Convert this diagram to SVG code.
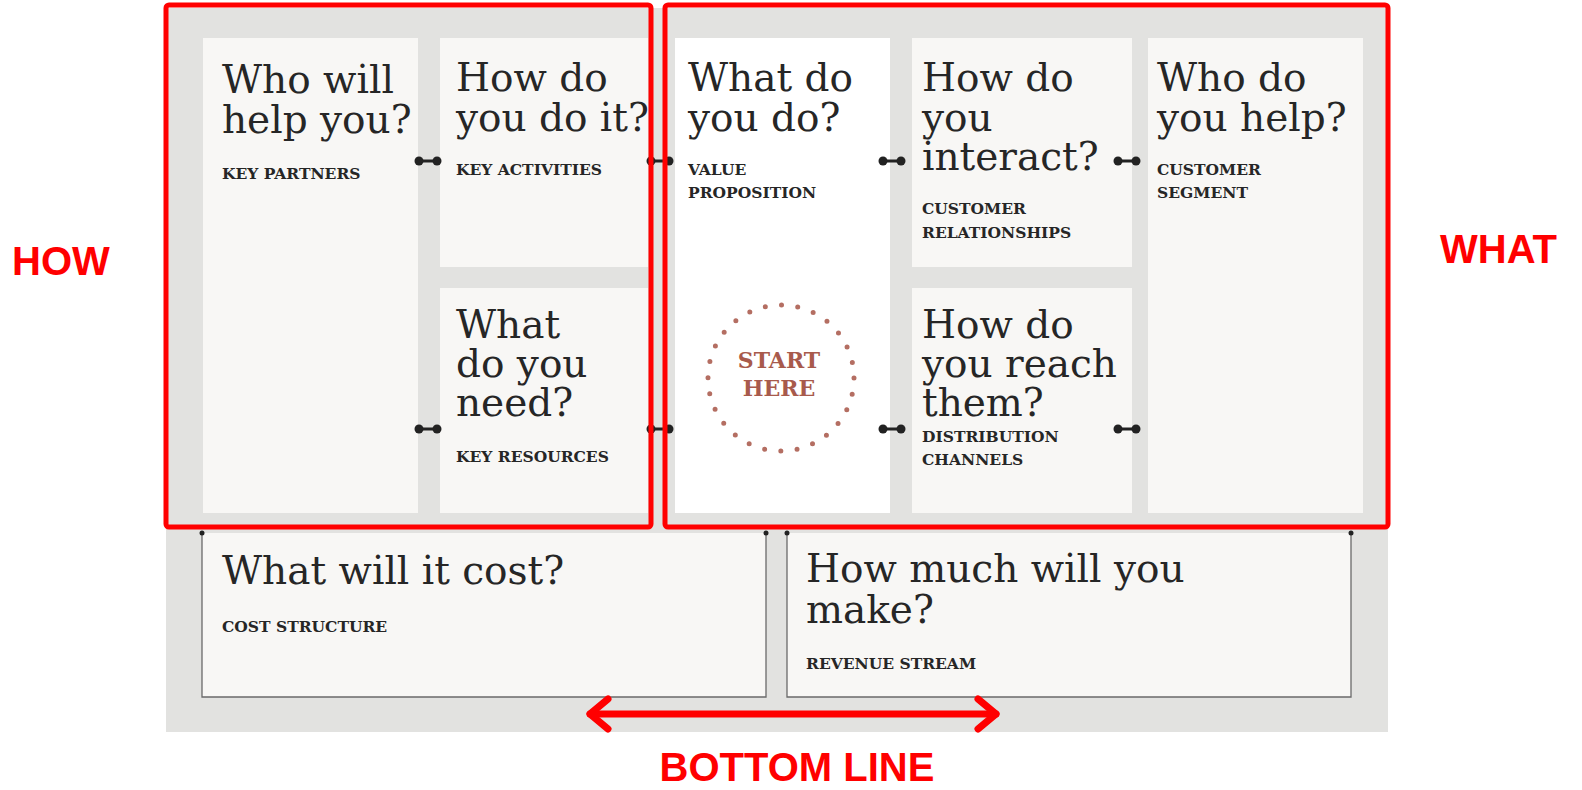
<svg xmlns="http://www.w3.org/2000/svg" width="1582" height="790" viewBox="0 0 1582 790">
<style>
.cell{fill:#f8f7f5}
.vp{fill:#ffffff}
.q{font-family:"DejaVu Serif","Liberation Serif",serif;font-size:39px;fill:#262626;font-weight:300}
.lb{font-family:"DejaVu Serif","Liberation Serif",serif;font-size:15.5px;font-weight:bold;fill:#262626}
.red{font-family:"Liberation Sans",Arial,sans-serif;font-weight:bold;font-size:40px;fill:#ff0000}
.box{fill:none;stroke:#ff0000;stroke-width:5}
.bb{fill:#f8f7f5;stroke:none}
.bl{fill:none;stroke:#6a6a6a;stroke-width:1.3}
</style>
<defs>
<g id="db"><line x1="-9" y1="0" x2="9" y2="0" stroke="#222" stroke-width="3"/><circle cx="-9" cy="0" r="4.5" fill="#222"/><circle cx="9" cy="0" r="4.5" fill="#222"/></g>
</defs>
<rect width="1582" height="790" fill="#ffffff"/>
<rect x="166" y="8" width="1222" height="724" fill="#e2e2e0"/>

<g id="key-partners"><rect class="cell" x="203" y="38" width="215" height="475"/>
<text class="q" x="222" y="93">Who will</text><text class="q" x="222" y="133">help you?</text>
<text class="lb" x="222" y="179">KEY PARTNERS</text></g>

<g id="key-activities"><rect class="cell" x="440" y="38" width="208" height="229"/>
<text class="q" x="456" y="91">How do</text><text class="q" x="456" y="131">you do it?</text>
<text class="lb" x="456" y="175">KEY ACTIVITIES</text></g>

<g id="key-resources"><rect class="cell" x="440" y="288" width="208" height="225"/>
<text class="q" x="456" y="338">What</text><text class="q" x="456" y="377">do you</text><text class="q" x="456" y="416">need?</text>
<text class="lb" x="456" y="462">KEY RESOURCES</text></g>

<g id="value-proposition"><rect class="vp" x="675" y="38" width="215" height="475"/>
<text class="q" x="688" y="91">What do</text><text class="q" x="688" y="131">you do?</text>
<text class="lb" x="688" y="175">VALUE</text><text class="lb" x="688" y="198">PROPOSITION</text>
<circle cx="781" cy="378" r="73" fill="none" stroke="#b46e62" stroke-width="5" stroke-linecap="round" stroke-dasharray="0 16.38"/>
<text x="779" y="368" text-anchor="middle" font-family="'DejaVu Serif',serif" font-weight="bold" font-size="22" fill="#a85a4c">START</text>
<text x="779" y="396" text-anchor="middle" font-family="'DejaVu Serif',serif" font-weight="bold" font-size="22" fill="#a85a4c">HERE</text></g>

<g id="customer-relationships"><rect class="cell" x="912" y="38" width="220" height="229"/>
<text class="q" x="922" y="91">How do</text><text class="q" x="922" y="131">you</text><text class="q" x="922" y="170">interact?</text>
<text class="lb" x="922" y="214">CUSTOMER</text><text class="lb" x="922" y="238">RELATIONSHIPS</text></g>

<g id="distribution-channels"><rect class="cell" x="912" y="288" width="220" height="225"/>
<text class="q" x="922" y="338">How do</text><text class="q" x="922" y="377">you reach</text><text class="q" x="922" y="416">them?</text>
<text class="lb" x="922" y="442">DISTRIBUTION</text><text class="lb" x="922" y="465">CHANNELS</text></g>

<g id="customer-segment"><rect class="cell" x="1148" y="38" width="215" height="475"/>
<text class="q" x="1157" y="91">Who do</text><text class="q" x="1157" y="131">you help?</text>
<text class="lb" x="1157" y="175">CUSTOMER</text><text class="lb" x="1157" y="198">SEGMENT</text></g>

<g id="cost-structure"><rect class="bb" x="202" y="533" width="564" height="164"/>
<path class="bl" d="M202 533 V697 H766 V533"/>
<circle cx="202" cy="533" r="2.5" fill="#222"/><circle cx="766" cy="533" r="2.5" fill="#222"/>
<text class="q" x="222" y="584">What will it cost?</text>
<text class="lb" x="222" y="632">COST STRUCTURE</text></g>

<g id="revenue-stream"><rect class="bb" x="787" y="533" width="564" height="164"/>
<path class="bl" d="M787 533 V697 H1351 V533"/>
<circle cx="787" cy="533" r="2.5" fill="#222"/><circle cx="1351" cy="533" r="2.5" fill="#222"/>
<text class="q" x="806" y="582">How much will you</text><text class="q" x="806" y="623">make?</text>
<text class="lb" x="806" y="669">REVENUE STREAM</text></g>

<g id="connectors">
<use href="#db" x="428" y="161"/><use href="#db" x="660" y="161"/><use href="#db" x="892" y="161"/><use href="#db" x="1127" y="161"/>
<use href="#db" x="428" y="429"/><use href="#db" x="660" y="429"/><use href="#db" x="892" y="429"/><use href="#db" x="1127" y="429"/>
</g>

<g id="how-box"><rect class="box" x="166" y="5" width="485" height="522" rx="3"/></g>
<g id="what-box"><rect class="box" x="665" y="5" width="723" height="522" rx="3"/></g>

<g id="labels">
<text class="red" x="12" y="275">HOW</text>
<text class="red" x="1440" y="263">WHAT</text>
<text class="red" x="797" y="781" text-anchor="middle">BOTTOM LINE</text>
</g>
<g id="bottom-arrow" fill="none" stroke="#ff0000" stroke-width="7" stroke-linecap="round" stroke-linejoin="round">
<line x1="590" y1="714" x2="996" y2="714"/>
<polyline points="608,699 590,714 608,729"/>
<polyline points="978,699 996,714 978,729"/>
</g>
</svg>
